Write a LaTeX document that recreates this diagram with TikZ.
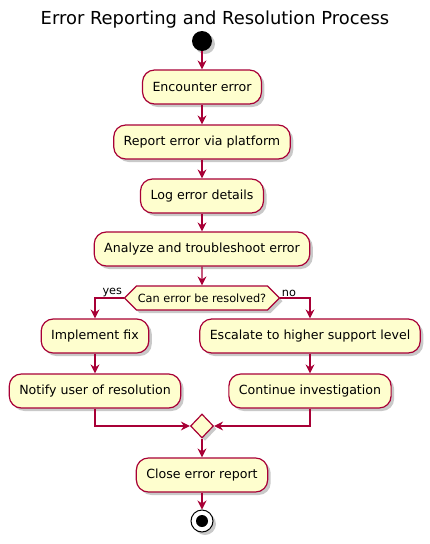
\documentclass[tikz,border=0pt]{standalone}
\usepackage{fontspec}
\setmainfont{DejaVu Sans}
\usetikzlibrary{shapes.geometric,shapes.symbols,shadows,arrows.meta}
\definecolor{umlred}{HTML}{A80036}
\definecolor{umlfill}{HTML}{FEFECE}
\begin{document}
\begin{tikzpicture}[x=1pt,y=-1pt,
  umlshadow/.style={drop shadow={shadow xshift=3pt,shadow yshift=-3pt,opacity=.3,fill=black!70}},
  act/.style={draw=umlred,fill=umlfill,line width=1.2pt,rounded corners=12pt,minimum height=34pt,inner xsep=10pt,font=\fontsize{12.6}{15}\selectfont,umlshadow},
  test/.style={signal,signal to=east and west,signal pointer angle=90,draw=umlred,fill=umlfill,line width=1.2pt,minimum width=155pt,minimum height=24pt,inner sep=1pt,font=\fontsize{11.3}{13}\selectfont,umlshadow},
  merge/.style={diamond,draw=umlred,fill=umlfill,line width=1.2pt,minimum width=23pt,minimum height=24pt,inner sep=0pt,umlshadow},
  startnode/.style={circle,fill=black,minimum size=20pt,inner sep=0pt,umlshadow},
  stopnode/.style={circle,draw=black,fill=white,line width=1pt,minimum size=22pt,inner sep=0pt,umlshadow,path picture={\fill[black] (path picture bounding box.center) circle (6pt);}},
  flow/.style={draw=umlred,line width=1.2pt,-{Stealth[length=9pt,width=9pt,inset=3pt]}},
  lbl/.style={font=\fontsize{11.3}{13}\selectfont,inner sep=1pt}]
\useasboundingbox (0,0) rectangle (430,544);
\node[font=\fontsize{17.9}{21}\selectfont] (title) at (215,20) {Error Reporting and Resolution Process};
\node[startnode] (start) at (202,41) {};
\node[act] (enc) at (202,87) {Encounter error};
\node[act] (rep) at (202,142) {Report error via platform};
\node[act] (log) at (202,196) {Log error details};
\node[act] (ana) at (202,249) {Analyze and troubleshoot error};
\node[test] (q) at (202,298) {Can error be resolved?};
\node[act] (fix) at (95,336) {Implement fix};
\node[act] (esc) at (310,336) {Escalate to higher support level};
\node[act] (note) at (95,391) {Notify user of resolution};
\node[act] (cont) at (310,391) {Continue investigation};
\node[merge] (join) at (202,426) {};
\node[act] (close) at (202,475) {Close error report};
\node[stopnode] (stop) at (202,521) {};
\draw[flow] (start)--(enc);\draw[flow] (enc)--(rep);
\draw[flow] (rep)--(log);\draw[flow] (log)--(ana);
\draw[flow] (ana)--(q);
\draw[flow] (q.west) -| (fix.north) node[pos=0,lbl,above left] {yes};
\draw[flow] (q.east) -| (esc.north) node[pos=0,lbl,above right] {no};
\draw[flow] (fix)--(note);\draw[flow] (esc)--(cont);
\draw[flow] (note) |- (join.west);\draw[flow] (cont) |- (join.east);
\draw[flow] (join)--(close);\draw[flow] (close)--(stop);
\end{tikzpicture}
\end{document}
